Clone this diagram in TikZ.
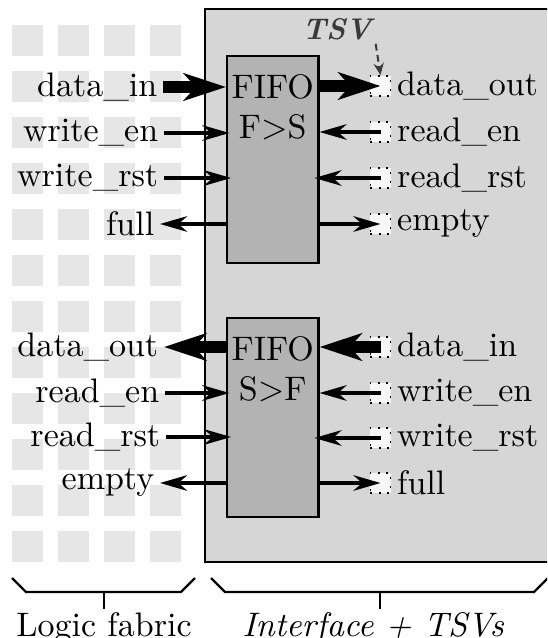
\documentclass[tikz,border=0pt]{standalone}
\usetikzlibrary{arrows.meta}
\definecolor{cellgray}{HTML}{E6E6E6}
\definecolor{ifgray}{HTML}{D6D6D6}
\definecolor{fifogray}{HTML}{B3B3B3}
\definecolor{tsvfill}{HTML}{F7F7F7}
\definecolor{tsvtext}{HTML}{3A3A3A}
\begin{document}
\begin{tikzpicture}[x=0.2941pt,y=-0.2941pt,
  cell/.style={fill=cellgray},
  ifbox/.style={draw, fill=ifgray, line width=0.6pt},
  fifobox/.style={draw, fill=fifogray, line width=0.7pt, minimum width=26.8pt, inner sep=0pt},
  tsv/.style={draw, dotted, line width=0.5pt, fill=tsvfill, minimum size=5.9pt, inner sep=0pt},
  lbl/.style={inner sep=1.5pt},
  sig/.style={line width=0.9pt, -{Stealth[length=8pt,width=4.6pt,inset=2.6pt]}},
  bus/.style={line width=3.4pt, -{Stealth[length=12.4pt,width=8pt,inset=3.5pt]}},
  bracel/.style={line width=0.7pt}
]
\useasboundingbox (0,0) rectangle (547,638);
\begin{scope}
\clip (0,0) rectangle (547,638);
% logic fabric cells
\foreach \c in {0,...,3} \foreach \r in {0,...,11}
  \fill[cell] (12+46*\c,25+46*\r) rectangle ++(31,31);
% interface region
\draw[ifbox] (205,9) rectangle (560,562);
\end{scope}

% FIFO boxes
\node[fifobox, minimum height=60.8pt, anchor=north west] (f1) at (226,55) {};
\node[anchor=north, align=center, inner sep=0pt, font=\fontsize{10}{11.8}\selectfont] (f1t) at ([yshift=-5.6pt]f1.north) {FIFO\\F>S};
\node[fifobox, minimum height=58.4pt, anchor=north west] (f2) at (226,317) {};
\node[anchor=north, align=center, inner sep=0pt, font=\fontsize{10}{11.8}\selectfont] (f2t) at ([yshift=-5.6pt]f2.north) {FIFO\\S>F};

% TSVs right of FIFO 1
\node[tsv] (t1) at (380.5,86) {};
\node[tsv] (t2) at (380.5,132) {};
\node[tsv] (t3) at (380.5,178) {};
\node[tsv] (t4) at (380.5,224) {};
% TSVs right of FIFO 2
\node[tsv] (t5) at (380.5,347) {};
\node[tsv] (t6) at (380.5,393) {};
\node[tsv] (t7) at (380.5,438) {};
\node[tsv] (t8) at (380.5,483) {};

% right labels
\node[lbl, anchor=west] (r1) at (t1.east) {data\_out};
\node[lbl, anchor=west] (r2) at (t2.east) {read\_en};
\node[lbl, anchor=west] (r3) at (t3.east) {read\_rst};
\node[lbl, anchor=west] (r4) at (t4.east) {empty};
\node[lbl, anchor=west] (r5) at (t5.east) {data\_in};
\node[lbl, anchor=west] (r6) at (t6.east) {write\_en};
\node[lbl, anchor=west] (r7) at (t7.east) {write\_rst};
\node[lbl, anchor=west] (r8) at (t8.east) {full};

% left labels
\node[lbl, anchor=east] (l1) at (163,87) {data\_in};
\node[lbl, anchor=east] (l2) at (164,133) {write\_en};
\node[lbl, anchor=east] (l3) at (164,178) {write\_rst};
\node[lbl, anchor=east] (l4) at (160,224) {full};
\node[lbl, anchor=east] (l5) at (164,347) {data\_out};
\node[lbl, anchor=east] (l6) at (165,393) {read\_en};
\node[lbl, anchor=east] (l7) at (166,437) {read\_rst};
\node[lbl, anchor=east] (l8) at (160,483) {empty};

% left arrows FIFO 1
\draw[bus] (l1.east) -- (l1.east -| f1.west);
\draw[sig] (l2.east) -- ([xshift=1pt]l2.east -| f1.west);
\draw[sig] (l3.east) -- ([xshift=1.5pt]l3.east -| f1.west);
\draw[sig] (l4.east -| f1.west) -- (l4.east);
% left arrows FIFO 2
\draw[bus] (l5.east -| f2.west) -- (l5.east);
\draw[sig] (l6.east) -- ([xshift=1pt]l6.east -| f2.west);
\draw[sig] (l7.east) -- ([xshift=1.5pt]l7.east -| f2.west);
\draw[sig] (l8.east -| f2.west) -- (l8.east);

% right arrows FIFO 1
\draw[bus] (t1.center -| f1.east) -- (t1.center);
\draw[sig] (t2.center) -- (t2.center -| f1.east);
\draw[sig] (t3.center) -- ([xshift=-1.5pt]t3.center -| f1.east);
\draw[sig] (t4.center -| f1.east) -- (t4.center);
% right arrows FIFO 2
\draw[bus] (t5.center) -- (t5.center -| f2.east);
\draw[sig] (t6.center) -- (t6.center -| f2.east);
\draw[sig] (t7.center) -- ([xshift=-1.5pt]t7.center -| f2.east);
\draw[sig] (t8.center -| f2.east) -- (t8.center);

% TSV annotation
\node[text=tsvtext, font=\fontsize{8.8}{10}\selectfont\bfseries\itshape, inner sep=1pt] (tsvl) at (337,29) {TSV};
\draw[dashed, dash pattern=on 2pt off 1.3pt, draw=tsvtext, line width=0.6pt, -{Stealth[length=3.5pt,width=3pt]}] (tsvl.south east) -- (t1.north);

% braces
\begin{scope}
\clip (0,0) rectangle (547,638);
\draw[bracel] (12,578) -- (26,592) -- (181,592) -- (195,578);
\draw[bracel] (104,592) -- (104,609);
\coordinate (lbb) at (104,609);
\draw[bracel] (211,578) -- (225,592) -- (534,592) -- (548,578);
\draw[bracel] (380,592) -- (380,609);
\coordinate (rbb) at (380,609);
\end{scope}
\node[anchor=north, inner sep=0pt] (lf) at ([yshift=-0.8pt]lbb) {Logic fabric};
\node[anchor=north, inner sep=0pt, font=\itshape] (ift) at ([xshift=-2pt,yshift=-0.8pt]rbb) {Interface + TSVs};
\end{tikzpicture}
\end{document}
